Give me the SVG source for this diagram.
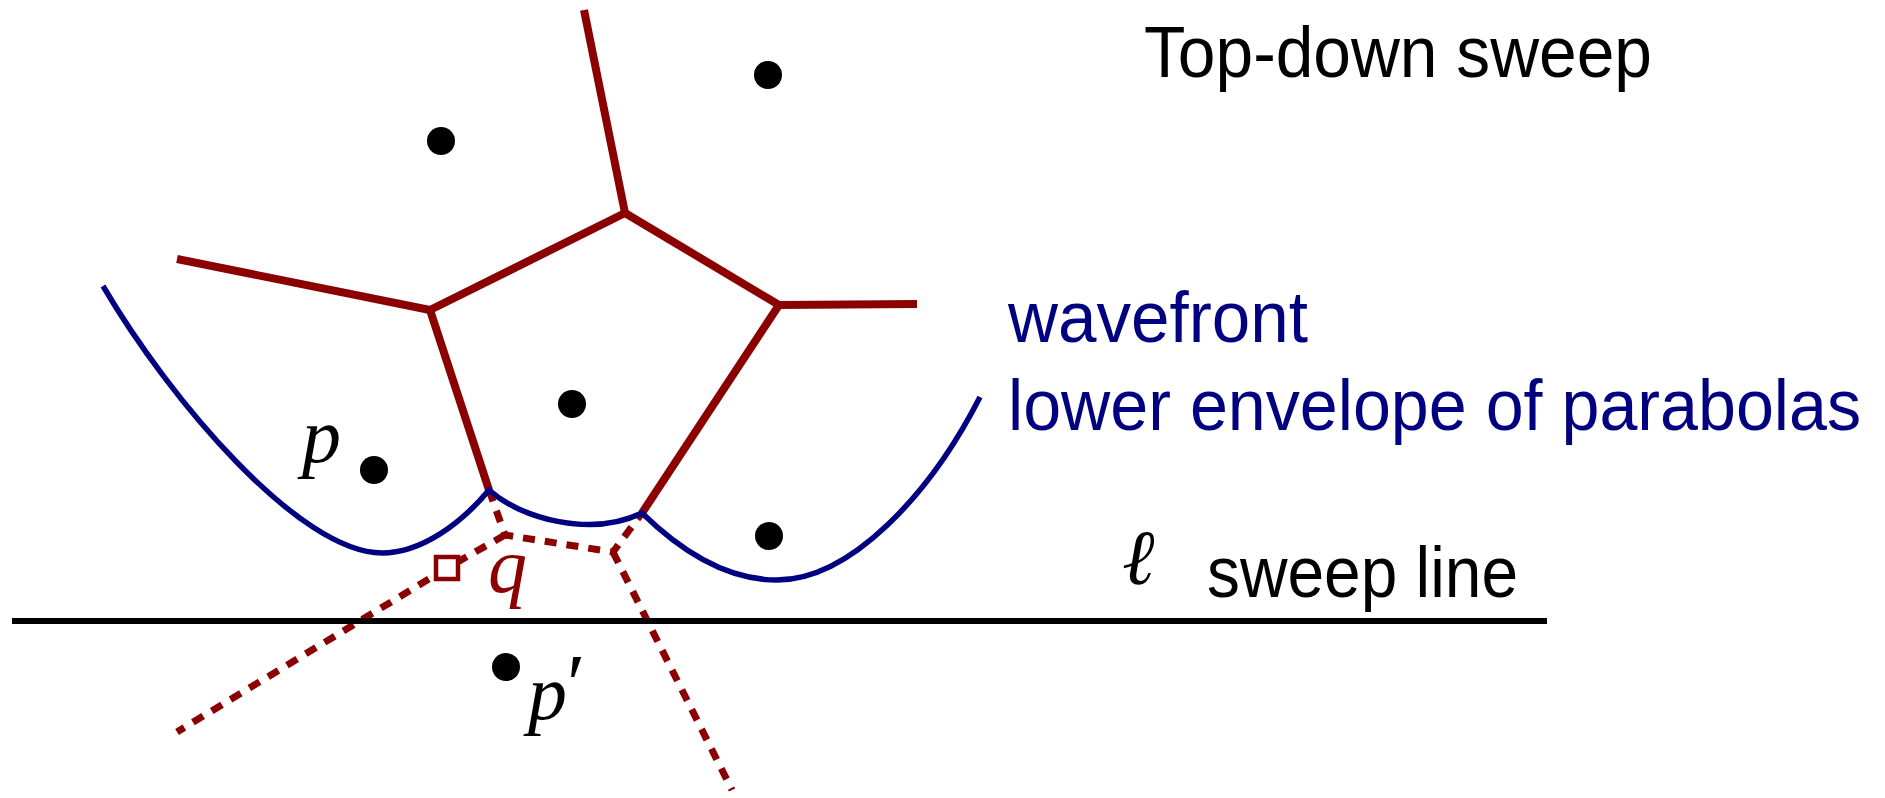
<svg xmlns="http://www.w3.org/2000/svg" width="1885" height="798" viewBox="0 0 1885 798">
<style>
.edge{stroke:#8b0000;stroke-width:8;fill:none;stroke-linecap:butt}
.dash{stroke:#8b0000;stroke-width:7;fill:none;stroke-dasharray:12 10}
.wave{stroke:#000080;stroke-width:5.5;fill:none}
.site{fill:#000}
.sans{font-family:"Liberation Sans",Arial,sans-serif;font-size:72px}
.math{font-family:"Liberation Serif","DejaVu Serif",serif;font-style:italic;font-size:78px}
</style>
<rect width="1885" height="798" fill="#fff"/>
<g id="connectors">
  <line class="edge" x1="625" y1="213" x2="584" y2="10"/>
  <line class="edge" x1="625" y1="213" x2="430" y2="310"/>
  <line class="edge" x1="430" y1="310" x2="177" y2="259"/>
  <line class="edge" x1="625" y1="213" x2="779" y2="305"/>
  <line class="edge" x1="779" y1="305" x2="917" y2="304"/>
  <line class="edge" x1="430" y1="310" x2="489" y2="490"/>
  <line class="edge" x1="779" y1="305" x2="642" y2="513"/>
</g>
<g id="future-edges">
  <path class="dash" d="M489,490 L505,535 L613,552 L642,513"/>
  <path class="dash" d="M505,535 L447,568 L177,732"/>
  <path class="dash" d="M613,552 L732,790"/>
</g>
<g id="wavefront">
  <path class="wave" d="M103,286 C170,400 300,553 382,553 C420,553 460,525 489,490 C520,518 590,538 642,513 C690,560 735,580 777,580 C850,580 930,495 980,397"/>
</g>
<g id="sweep-line">
  <line x1="12" y1="621" x2="1547" y2="621" stroke="#000" stroke-width="6"/>
</g>
<g id="q">
  <rect x="436" y="557" width="22" height="22" fill="#fff" stroke="#8b0000" stroke-width="4.5"/>
  <text class="math" x="488" y="592" fill="#8b0000">q</text>
</g>
<g id="sites">
  <circle class="site" cx="441" cy="141" r="14"/>
  <circle class="site" cx="768" cy="75" r="14"/>
  <circle class="site" cx="572" cy="404" r="14"/>
  <circle class="site" cx="374" cy="470" r="14"/>
  <circle class="site" cx="769" cy="536" r="14"/>
  <circle class="site" cx="506" cy="667" r="14"/>
</g>
<g id="labels">
  <text class="math" x="302" y="462">p</text>
  <text class="math" x="528" y="719">p<tspan font-style="normal" font-size="84" dy="-6">′</tspan></text>
  <text class="math" x="1122" y="584" font-size="88">ℓ</text>
  <text class="sans" x="1144" y="77" textLength="508" lengthAdjust="spacingAndGlyphs">Top-down sweep</text>
  <text class="sans" x="1008" y="342" fill="#000080" textLength="300" lengthAdjust="spacingAndGlyphs">wavefront</text>
  <text class="sans" x="1008" y="430" fill="#000080" textLength="853" lengthAdjust="spacingAndGlyphs">lower envelope of parabolas</text>
  <text class="sans" x="1207" y="597" textLength="311" lengthAdjust="spacingAndGlyphs">sweep line</text>
</g>
</svg>
